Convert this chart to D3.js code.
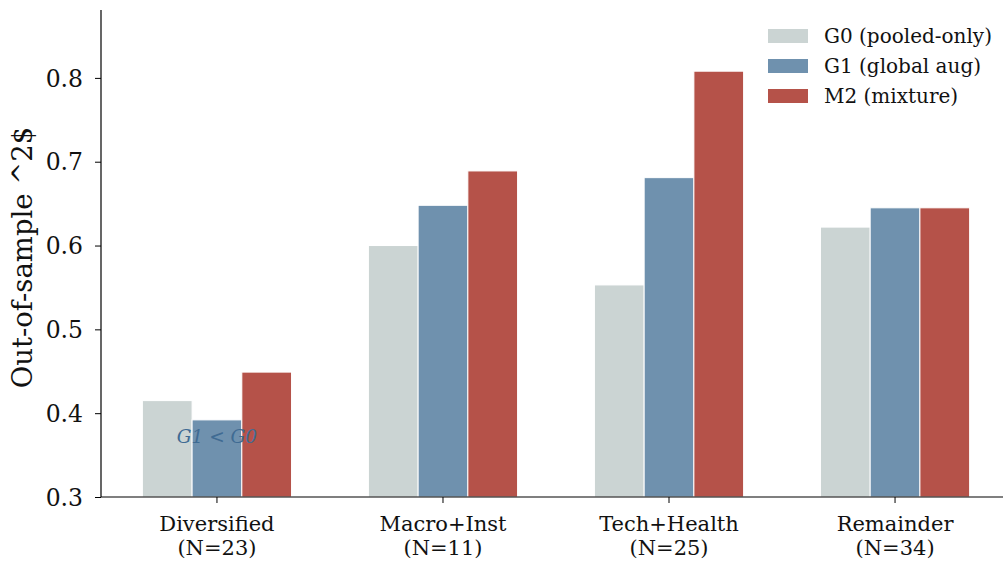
<!DOCTYPE html>
<html>
<head>
<meta charset="utf-8">
<script src="https://cdn.jsdelivr.net/npm/d3@7"></script>
<style>
  html, body { margin: 0; padding: 0; background: #ffffff; }
  svg text { font-family: "DejaVu Serif", serif; fill: #111; }
</style>
</head>
<body>
<svg id="chart" width="1003" height="561"></svg>
<script>
// Out-of-sample R^2 by sector group for three model variants
const categories = ["Diversified\n(N=23)", "Macro+Inst\n(N=11)", "Tech+Health\n(N=25)", "Remainder\n(N=34)"];
const seriesNames = ["G0 (pooled-only)", "G1 (global aug)", "M2 (mixture)"];
const g0Values = [0.415, 0.600, 0.553, 0.622];
const g1Values = [0.392, 0.648, 0.681, 0.645];
const m2Values = [0.449, 0.689, 0.808, 0.645];
const yTicks = [0.3, 0.4, 0.5, 0.6, 0.7, 0.8];
const colors = ["#cbd4d3", "#6f91ae", "#b55249"];

const series = [g0Values, g1Values, m2Values];

const svg = d3.select("#chart");
const plotLeft = 101, plotRight = 1011, plotTop = 10, plotBottom = 497;

// group index -> pixel; bars are 0.22 units wide, offset by one bar width
const x = d3.scaleLinear().domain([-0.513, 3.513]).range([plotLeft, plotRight]);
const y = d3.scaleLinear().domain([0.3, 0.881]).range([plotBottom, plotTop]);
const barW = 0.22;

const g = svg.append("g");
series.forEach((vals, s) => {
  g.selectAll(null).data(vals).enter().append("rect")
    .attr("x", (d, i) => x(i + (s - 1) * barW - barW / 2))
    .attr("width", x(barW) - x(0))
    .attr("y", d => y(d))
    .attr("height", d => y(0.3) - y(d))
    .attr("fill", colors[s])
    .attr("stroke", "#ffffff")
    .attr("stroke-width", 1);
});

// annotation on the Diversified group
svg.append("text")
  .attr("x", x(0)).attr("y", 443)
  .attr("text-anchor", "middle")
  .attr("font-style", "italic")
  .attr("font-size", 18.5)
  .style("fill", "#3f6b93")
  .text("G1 < G0");

// y axis
const yAxis = svg.append("g")
  .attr("transform", `translate(${plotLeft},0)`)
  .call(d3.axisLeft(y).tickValues(yTicks).tickFormat(d3.format(".1f")).tickSize(6).tickPadding(12));
yAxis.select(".domain").attr("d", `M0,${plotTop}V${plotBottom}`).attr("stroke", "#000").attr("stroke-width", 1.2);
yAxis.selectAll(".tick line").attr("stroke", "#000");
yAxis.selectAll(".tick text").attr("font-size", 23.5).attr("font-family", "DejaVu Serif").attr("dy", "0.35em").style("fill", "#111");

// x axis
const xAxis = svg.append("g").attr("transform", `translate(0,${plotBottom})`);
xAxis.append("line").attr("x1", plotLeft).attr("x2", 1003).attr("stroke", "#000").attr("stroke-width", 1.2);
categories.forEach((c, i) => {
  xAxis.append("line").attr("x1", x(i)).attr("x2", x(i)).attr("y1", 0).attr("y2", 6).attr("stroke", "#000");
  const lines = c.split("\n");
  const t = xAxis.append("text").attr("text-anchor", "middle").attr("font-size", 21);
  lines.forEach((ln, k) => {
    t.append("tspan").attr("x", x(i)).attr("y", 34 + k * 24).text(ln);
  });
});

// y label
svg.append("text")
  .attr("transform", `translate(32,${(plotTop + plotBottom) / 2 + 4}) rotate(-90)`)
  .attr("text-anchor", "middle")
  .attr("font-size", 27.5)
  .text("Out-of-sample ^2$");

// legend
const legend = svg.append("g").attr("transform", "translate(768,36)");
seriesNames.forEach((n, i) => {
  const row = legend.append("g").attr("transform", `translate(0,${i * 30})`);
  row.append("rect").attr("x", 0).attr("y", -7).attr("width", 40).attr("height", 14).attr("fill", colors[i]);
  row.append("text").attr("x", 56).attr("y", 7).attr("font-size", 20).text(n);
});
</script>
</body>
</html>
